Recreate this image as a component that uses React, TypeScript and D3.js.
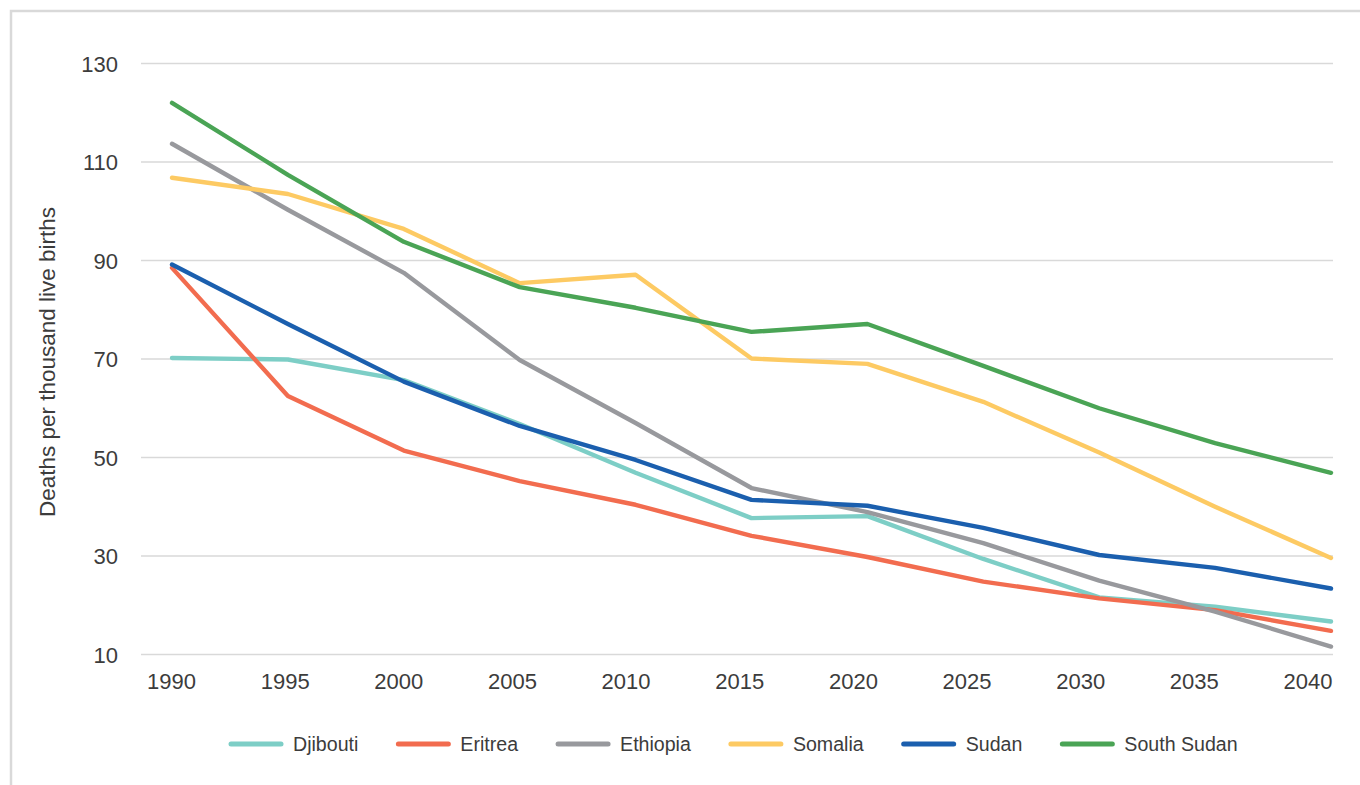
import React from "react";
import * as d3 from "d3";

const years = [1990, 1995, 2000, 2005, 2010, 2015, 2020, 2025, 2030, 2035, 2040];
const yTicks = [10, 30, 50, 70, 90, 110, 130];

const djibouti = [70.2, 69.9, 65.7, 56.8, 46.9, 37.7, 38.1, 29.4, 21.6, 19.7, 16.7];
const eritrea = [88.5, 62.5, 51.4, 45.2, 40.4, 34.1, 29.8, 24.8, 21.4, 19.0, 14.8];
const ethiopia = [113.7, 100.3, 87.5, 69.8, 57.0, 43.8, 38.9, 32.6, 25.0, 18.7, 11.6];
const somalia = [106.8, 103.5, 96.4, 85.4, 87.1, 70.1, 69.0, 61.3, 51.0, 40.0, 29.6];
const sudan = [89.2, 77.1, 65.4, 56.4, 49.5, 41.4, 40.2, 35.7, 30.2, 27.6, 23.4];
const southSudan = [122.0, 107.4, 93.8, 84.6, 80.4, 75.5, 77.1, 68.6, 60.0, 52.9, 46.9];

const seriesNames = ["Djibouti", "Eritrea", "Ethiopia", "Somalia", "Sudan", "South Sudan"];
const seriesValues = [djibouti, eritrea, ethiopia, somalia, sudan, southSudan];
const seriesColors = ["#7dcec6", "#f26c4f", "#98999d", "#fdca63", "#1b5fae", "#4aa455"];

const W = 1360;
const H = 785;
const FONT = "'Liberation Sans', Arial, Helvetica, sans-serif";
const TEXT = "#3c3c3c";

export default function App() {
  const x = d3.scalePoint<number>().domain(years).range([172, 1331]);
  const xLabel = d3.scalePoint<number>().domain(years).range([171.5, 1308]);
  const y = d3.scaleLinear().domain([10, 130]).range([654.5, 63.5]);

  const line = d3
    .line<number>()
    .x((_, i) => x(years[i]) as number)
    .y((v) => y(v));

  // legend layout
  const legendY = 744;
  const legendFont = 19.6;
  const lineLen = 50;
  const gapLineText = 12;
  const gapItems = 40;
  const charW = (s: string) => {
    const widths: Record<string, number> = {
      D: 0.722, j: 0.222, i: 0.222, b: 0.556, o: 0.556, u: 0.556, t: 0.278,
      E: 0.667, r: 0.333, e: 0.556, a: 0.556, h: 0.556, p: 0.556, S: 0.667,
      m: 0.833, l: 0.222, d: 0.556, n: 0.556, " ": 0.278,
    };
    let w = 0;
    for (const c of s) w += (widths[c] ?? 0.556) * legendFont;
    return w;
  };
  let cursor = 231;
  const legendItems = seriesNames.map((name, i) => {
    const x0 = cursor;
    const tx = x0 + lineLen + gapLineText;
    cursor = tx + charW(name) + gapItems;
    return { name, color: seriesColors[i], x0, tx };
  });

  return (
    <svg
      width={W}
      height={H}
      style={{ position: "fixed", left: 0, top: 0, background: "#fff" }}
      fontFamily={FONT}
    >
      <rect x={0} y={0} width={W} height={H} fill="#fff" />
      {/* frame */}
      <path d={`M11,${H + 5} V11 H${W + 5}`} fill="none" stroke="#d9d9d9" strokeWidth={2.5} />

      {/* gridlines */}
      {yTicks.map((t) => (
        <line key={t} x1={141} x2={1333} y1={y(t)} y2={y(t)} stroke="#d9d9d9" strokeWidth={1.3} />
      ))}

      {/* y tick labels */}
      {yTicks.map((t) => (
        <text key={t} x={118} y={y(t) + 8} textAnchor="end" fontSize={22} fill={TEXT}>
          {t}
        </text>
      ))}

      {/* x tick labels */}
      {years.map((yr) => (
        <text key={yr} x={xLabel(yr)} y={689} textAnchor="middle" fontSize={22} fill={TEXT}>
          {yr}
        </text>
      ))}

      {/* y axis title */}
      <text
        transform={`translate(55,362) rotate(-90)`}
        textAnchor="middle"
        fontSize={22.5}
        fill={TEXT}
      >
        Deaths per thousand live births
      </text>

      {/* series */}
      {seriesValues.map((vals, i) => (
        <path
          key={seriesNames[i]}
          d={line(vals) || ""}
          fill="none"
          stroke={seriesColors[i]}
          strokeWidth={4.4}
          strokeLinecap="round"
          strokeLinejoin="round"
        />
      ))}

      {/* legend */}
      {legendItems.map((it) => (
        <g key={it.name}>
          <line
            x1={it.x0}
            x2={it.x0 + lineLen}
            y1={legendY}
            y2={legendY}
            stroke={it.color}
            strokeWidth={5}
            strokeLinecap="round"
          />
          <text x={it.tx} y={legendY + 7} fontSize={legendFont} fill={TEXT}>
            {it.name}
          </text>
        </g>
      ))}
    </svg>
  );
}
